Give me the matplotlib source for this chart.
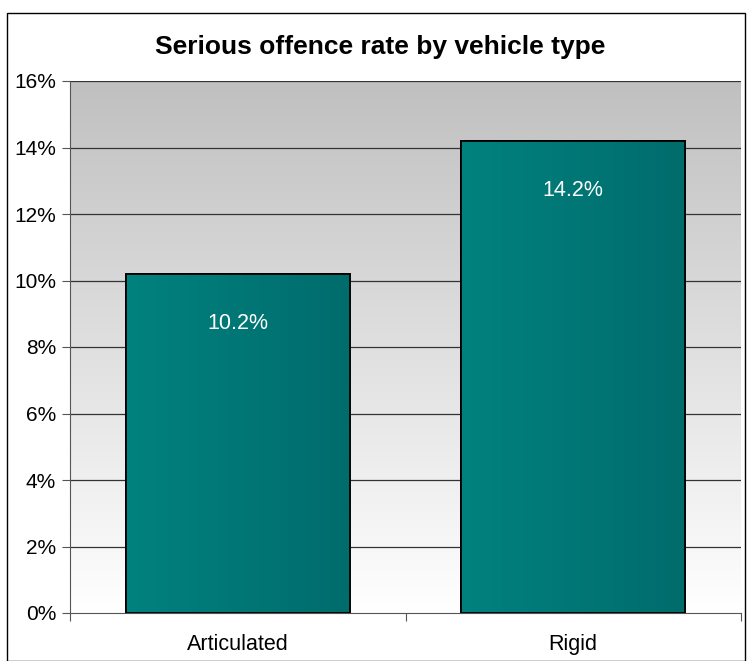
import numpy as np
import matplotlib
matplotlib.use("Agg")
import matplotlib.pyplot as plt
from matplotlib.colors import LinearSegmentedColormap
from matplotlib.patches import Rectangle

plt.rcParams['font.family'] = ['Liberation Sans', 'DejaVu Sans']

categories = ["Articulated", "Rigid"]
rates = [10.2, 14.2]
labels = ["10.2%", "14.2%"]
yticks = [0, 2, 4, 6, 8, 10, 12, 14, 16]

W, H = 749, 661
fig = plt.figure(figsize=(W / 100, H / 100), dpi=100)

# outer chart border
fig.patches.append(Rectangle((7 / W, 0), (745 - 7) / W, (H - 13) / H,
                             transform=fig.transFigure, fill=False,
                             edgecolor="black", linewidth=1.0))

ax = fig.add_axes([70 / W, (H - 613) / H, (741 - 70) / W, (613 - 81) / H])
ax.set_xlim(-0.5, 1.5)
ax.set_ylim(0, 16)

# gray-to-white plot area gradient
bg = LinearSegmentedColormap.from_list("bg", ["#ffffff", "#c0c0c0"])
ax.imshow(np.linspace(0, 1, 256).reshape(-1, 1), cmap=bg, aspect="auto",
          extent=(-0.5, 1.5, 0, 16), origin="lower", zorder=0)

for y in yticks[1:]:
    ax.axhline(y, color="#333333", linewidth=0.9, zorder=1)

x = np.arange(len(categories))
bars = ax.bar(x, rates, width=0.668, color="#007373", edgecolor="black",
              linewidth=1.3, zorder=2)

teal = LinearSegmentedColormap.from_list("teal", ["#00827f", "#006c6c"])
grad = np.linspace(0, 1, 256).reshape(1, -1)
for b in bars:
    x0, w, h = b.get_x(), b.get_width(), b.get_height()
    im = ax.imshow(grad, cmap=teal, aspect="auto",
                   extent=(x0, x0 + w, 0, h), zorder=2.5)
    im.set_clip_path(b)
    ax.add_patch(Rectangle((x0, 0), w, h, fill=False, edgecolor="black",
                           linewidth=1.3, zorder=3))

for xi, v, lab in zip(x, rates, labels):
    ax.text(xi, v - 1.5, lab, ha="center", va="center", color="white",
            fontsize=15.5, zorder=4)

ax.set_yticks(yticks)
ax.set_yticklabels([f"{t}%" for t in yticks], fontsize=15)
ax.set_xticks([-0.5, 0.5, 1.5])
ax.set_xticklabels([])
ax.set_xticks(x, minor=True)
ax.set_xticklabels(categories, minor=True, fontsize=15.5)
ax.tick_params(axis="x", which="minor", length=0, pad=15)
ax.tick_params(axis="x", which="major", length=6, direction="out", color="#555555")
ax.tick_params(axis="y", length=6, direction="out", color="#555555", pad=4)

for s in ["top", "right"]:
    ax.spines[s].set_visible(False)
ax.spines["left"].set_color("#555555")
ax.spines["bottom"].set_color("#555555")

fig.text(380 / W, 1 - 47 / H, "Serious offence rate by vehicle type",
         ha="center", va="center", fontsize=19, fontweight="bold")

fig.savefig("out.png", dpi=100)
